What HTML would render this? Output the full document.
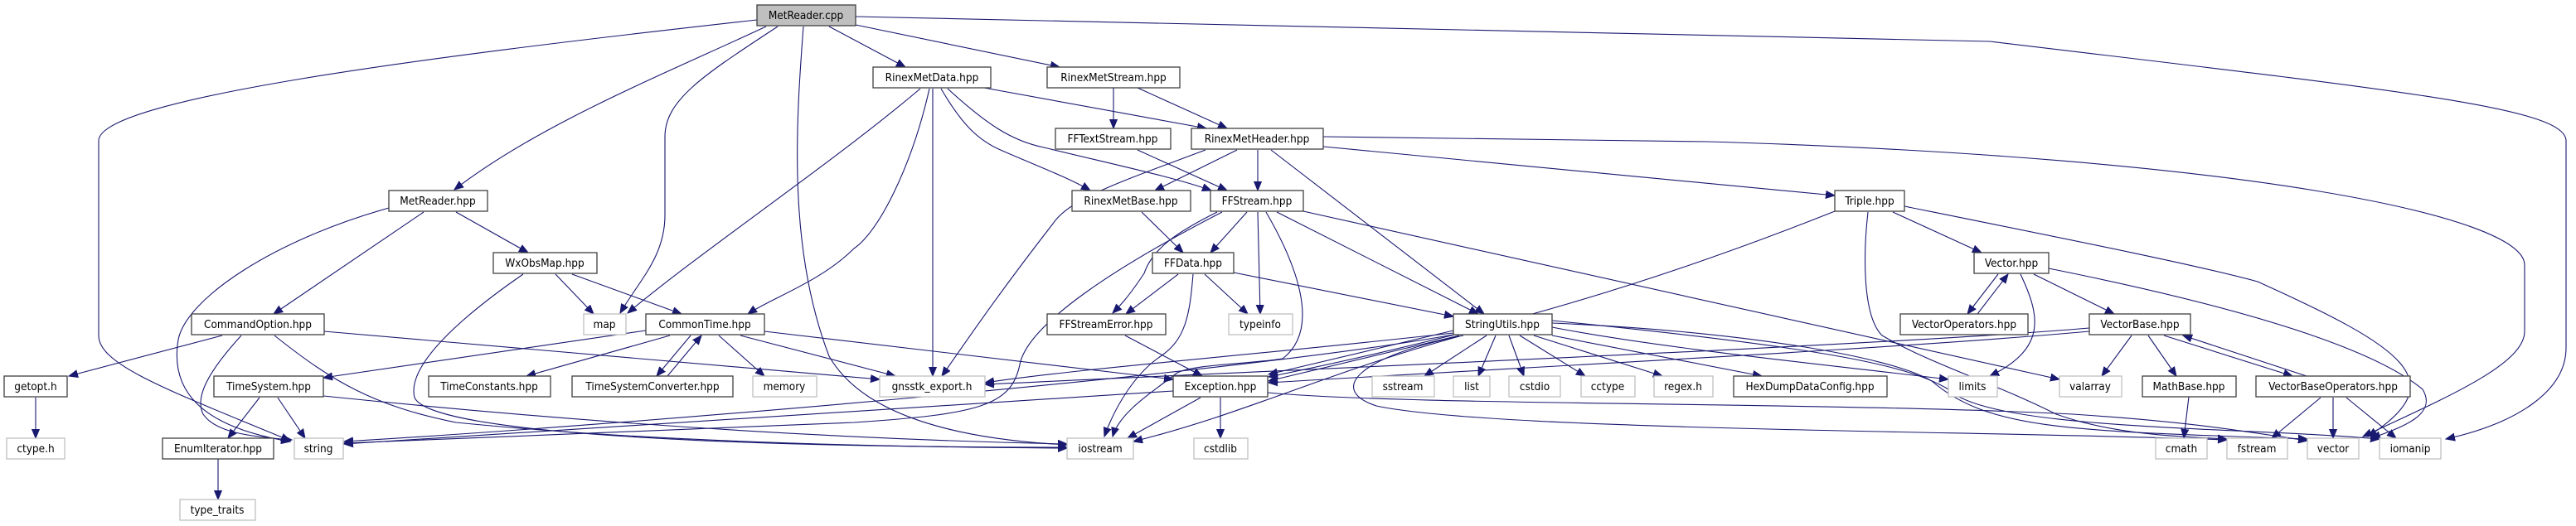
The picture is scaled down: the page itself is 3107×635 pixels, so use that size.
<!DOCTYPE html>
<html><head><meta charset="utf-8"><style>
html,body{margin:0;padding:0;background:#fff;}
svg{display:block;}
text{font-family:"DejaVu Sans Condensed","Liberation Sans",sans-serif;font-size:13.5px;fill:#000;text-anchor:middle;}
.n{fill:#fff;stroke:#404040;stroke-width:1.3;}
.g{fill:#fff;stroke:#bfbfbf;stroke-width:1.3;}
.e{fill:none;stroke:#191970;stroke-width:1.1;}
</style></head><body>
<svg width="3107" height="635" viewBox="0 0 3107 635" xmlns="http://www.w3.org/2000/svg">
<defs><marker id="a" markerUnits="userSpaceOnUse" markerWidth="12" markerHeight="10" refX="11" refY="5" orient="auto"><path d="M0,0.5 L11,5 L0,9.5 Z" fill="#191970" stroke="#191970"/></marker></defs>
<g class="e" marker-end="url(#a)">
<!-- MetReader.cpp -->
<path d="M913,24 C500,70 119,120 119,170 L119,405 C119,440 200,470 350,532"/>
<path d="M924,32 C800,90 650,150 548,229"/>
<path d="M938,32 C850,90 802,120 802,165 L802,260 C802,310 770,340 748,378"/>
<path d="M969,32 C960,150 950,300 1000,430 C1040,500 1150,530 1287,537"/>
<path d="M1000,32 L1092,81"/>
<path d="M1032,30 L1278,81"/>
<path d="M1032,20 L2400,50 C2900,110 3095,130 3095,170 L3095,420 C3095,470 3040,510 2950,530"/>
<!-- MetReader.hpp -->
<path d="M469,251 C330,290 225,360 215,410 C205,470 240,515 350,533"/>
<path d="M511,256 L330,379"/>
<path d="M550,256 L637,305"/>
<!-- WxObsMap -->
<path d="M670,331 L716,379"/>
<path d="M690,331 L822,379"/>
<path d="M631,331 C560,380 490,440 500,480 C520,525 900,540 1287,540"/>
<!-- CommandOption -->
<path d="M268,405 L83,454"/>
<path d="M291,405 C250,450 235,480 245,500 C260,522 300,527 352,531"/>
<path d="M331,405 C400,460 450,490 550,510 C800,535 1100,540 1287,541"/>
<path d="M391,400 L1061,458"/>
<!-- CommonTime -->
<path d="M779,399 L390,456"/>
<path d="M808,405 L635,454"/>
<path d="M833,405 L792,454"/>
<path d="M805,454 L846,405"/>
<path d="M867,405 L922,454"/>
<path d="M893,405 L1080,454"/>
<path d="M922,400 L1415,458"/>
<!-- TimeSystem etc -->
<path d="M313,480 L275,529"/>
<path d="M335,480 L368,529"/>
<path d="M390,478 C700,510 1000,530 1287,536"/>
<path d="M43,480 L43,529"/>
<path d="M263,554 L263,603"/>
<!-- RinexMetData -->
<path d="M1110,107 C1000,200 850,300 757,378"/>
<path d="M1121,107 C1100,200 1060,280 1030,300 C990,340 930,360 902,379"/>
<path d="M1125,107 L1125,454"/>
<path d="M1187,106 L1455,155"/>
<path d="M1135,107 C1160,150 1180,170 1209,182 C1250,200 1290,215 1315,230"/>
<path d="M1143,107 C1190,150 1220,170 1259,178 C1350,200 1420,215 1461,230"/>
<!-- RinexMetStream -->
<path d="M1343,106 L1343,155"/>
<path d="M1372,106 L1480,155"/>
<path d="M1372,181 L1480,230"/>
<!-- RinexMetHeader -->
<path d="M1454,181 C1350,220 1290,240 1270,270 C1200,360 1160,420 1136,454"/>
<path d="M1492,181 L1393,230"/>
<path d="M1517,181 L1517,230"/>
<path d="M1533,181 L1790,379"/>
<path d="M1596,165 L2060,171 C2700,190 3045,260 3045,320 L3045,400 C3045,440 2950,480 2850,527"/>
<path d="M1596,177 L2213,236"/>
<path d="M1377,256 L1427,305"/>
<!-- FFStream -->
<path d="M1504,256 L1460,305"/>
<path d="M1517,256 L1520,379"/>
<path d="M1468,256 C1420,280 1390,300 1380,330 C1360,360 1350,370 1342,378"/>
<path d="M1474,256 C1350,320 1240,390 1230,440 C1220,490 1180,500 1030,510 C700,522 500,530 415,535"/>
<path d="M1527,256 C1570,330 1590,400 1547,433 C1500,440 1440,440 1420,450 C1380,480 1350,500 1342,527"/>
<path d="M1540,256 L1783,379"/>
<path d="M1572,255 L2484,458"/>
<!-- FFData -->
<path d="M1421,331 L1358,379"/>
<path d="M1453,331 L1505,379"/>
<path d="M1439,331 C1435,380 1430,410 1400,430 C1370,450 1345,490 1332,527"/>
<path d="M1488,329 L1753,382"/>
<path d="M1357,405 L1450,454"/>
<!-- StringUtils -->
<path d="M1753,399 L1530,452"/>
<path d="M1760,405 L1530,460"/>
<path d="M1753,402 C1500,430 1300,445 1188,462"/>
<path d="M1753,404 C1500,450 800,510 415,533"/>
<path d="M1793,405 L1718,454"/>
<path d="M1804,405 L1783,454"/>
<path d="M1820,405 L1838,454"/>
<path d="M1833,405 L1912,454"/>
<path d="M1850,405 L2005,454"/>
<path d="M1872,405 L2125,454"/>
<path d="M1872,395 C2000,420 2200,440 2350,458"/>
<path d="M1872,390 C2100,400 2280,430 2330,460 C2400,520 2500,520 2783,530"/>
<path d="M1872,387 C2200,420 2300,440 2350,470 C2400,520 2700,515 2870,530"/>
<path d="M1765,405 C1640,430 1600,470 1660,490 C1800,520 2400,520 2686,531"/>
<path d="M1760,406 C1600,450 1500,500 1367,533"/>
<!-- Triple -->
<path d="M2283,256 L2390,305"/>
<path d="M2213,255 C2000,340 1800,400 1530,455"/>
<path d="M2253,256 C2248,300 2245,380 2270,405 C2330,440 2400,460 2480,500 C2550,525 2630,527 2686,530"/>
<path d="M2297,249 C2500,290 2650,320 2723,340 C2900,420 2960,460 2856,527"/>
<!-- Vector -->
<path d="M2410,331 L2373,379"/>
<path d="M2385,379 L2422,331"/>
<path d="M2437,331 C2460,380 2470,420 2400,454"/>
<path d="M2453,331 L2550,379"/>
<path d="M2471,324 C2650,360 2850,410 2922,470 C2940,500 2900,515 2860,529"/>
<!-- VectorBase -->
<path d="M2571,405 L2535,454"/>
<path d="M2591,405 L2625,454"/>
<path d="M2610,405 L2765,454"/>
<path d="M2782,454 L2633,405"/>
<path d="M2520,400 C2300,420 1900,440 1530,462"/>
<path d="M2520,396 C2300,415 1700,440 1188,464"/>
<path d="M2640,479 L2634,529"/>
<path d="M2799,480 L2740,529"/>
<path d="M2814,480 L2814,529"/>
<path d="M2830,480 L2890,529"/>
<!-- Exception -->
<path d="M1448,480 L1360,529"/>
<path d="M1472,480 L1472,529"/>
<path d="M1415,472 C1000,500 600,525 415,536"/>
<path d="M1529,474 C1700,490 2200,485 2500,500 C2650,510 2700,520 2783,532"/>
</g>
<!-- nodes -->
<g>
<rect x="913" y="6" width="119" height="25" fill="#bfbfbf" stroke="#404040" stroke-width="1.3"/><text x="972" y="23">MetReader.cpp</text>
<rect class="n" x="1053" y="81" width="142" height="25"/><text x="1124" y="98">RinexMetData.hpp</text>
<rect class="n" x="1263" y="81" width="160" height="25"/><text x="1343" y="98">RinexMetStream.hpp</text>
<rect class="n" x="1273" y="155" width="139" height="25"/><text x="1342" y="172">FFTextStream.hpp</text>
<rect class="n" x="1437" y="155" width="159" height="25"/><text x="1516" y="172">RinexMetHeader.hpp</text>
<rect class="n" x="469" y="230" width="119" height="25"/><text x="528" y="247">MetReader.hpp</text>
<rect class="n" x="1293" y="230" width="143" height="25"/><text x="1364" y="247">RinexMetBase.hpp</text>
<rect class="n" x="1460" y="230" width="112" height="25"/><text x="1516" y="247">FFStream.hpp</text>
<rect class="n" x="2213" y="230" width="84" height="25"/><text x="2255" y="247">Triple.hpp</text>
<rect class="n" x="595" y="305" width="125" height="25"/><text x="657" y="322">WxObsMap.hpp</text>
<rect class="n" x="1390" y="305" width="98" height="25"/><text x="1439" y="322">FFData.hpp</text>
<rect class="n" x="2381" y="305" width="90" height="25"/><text x="2426" y="322">Vector.hpp</text>
<rect class="n" x="231" y="379" width="160" height="25"/><text x="311" y="396">CommandOption.hpp</text>
<rect class="g" x="704" y="379" width="51" height="25"/><text x="729" y="396">map</text>
<rect class="n" x="779" y="379" width="143" height="25"/><text x="850" y="396">CommonTime.hpp</text>
<rect class="n" x="1263" y="379" width="143" height="25"/><text x="1334" y="396">FFStreamError.hpp</text>
<rect class="g" x="1482" y="379" width="77" height="25"/><text x="1520" y="396">typeinfo</text>
<rect class="n" x="1753" y="379" width="119" height="25"/><text x="1812" y="396">StringUtils.hpp</text>
<rect class="n" x="2292" y="379" width="154" height="25"/><text x="2369" y="396">VectorOperators.hpp</text>
<rect class="n" x="2520" y="379" width="122" height="25"/><text x="2581" y="396">VectorBase.hpp</text>
<rect class="n" x="5" y="454" width="76" height="25"/><text x="43" y="471">getopt.h</text>
<rect class="n" x="258" y="454" width="132" height="25"/><text x="324" y="471">TimeSystem.hpp</text>
<rect class="n" x="517" y="454" width="147" height="25"/><text x="590" y="471">TimeConstants.hpp</text>
<rect class="n" x="690" y="454" width="194" height="25"/><text x="787" y="471">TimeSystemConverter.hpp</text>
<rect class="g" x="908" y="454" width="77" height="25"/><text x="946" y="471">memory</text>
<rect class="g" x="1061" y="454" width="127" height="25"/><text x="1124" y="471">gnsstk_export.h</text>
<rect class="n" x="1415" y="454" width="114" height="25"/><text x="1472" y="471">Exception.hpp</text>
<rect class="g" x="1655" y="454" width="75" height="25"/><text x="1692" y="471">sstream</text>
<rect class="g" x="1753" y="454" width="44" height="25"/><text x="1775" y="471">list</text>
<rect class="g" x="1820" y="454" width="62" height="25"/><text x="1851" y="471">cstdio</text>
<rect class="g" x="1907" y="454" width="65" height="25"/><text x="1939" y="471">cctype</text>
<rect class="g" x="1995" y="454" width="71" height="25"/><text x="2030" y="471">regex.h</text>
<rect class="n" x="2091" y="454" width="185" height="25"/><text x="2183" y="471">HexDumpDataConfig.hpp</text>
<rect class="g" x="2350" y="454" width="59" height="25"/><text x="2379" y="471">limits</text>
<rect class="g" x="2484" y="454" width="75" height="25"/><text x="2521" y="471">valarray</text>
<rect class="n" x="2584" y="454" width="113" height="25"/><text x="2640" y="471">MathBase.hpp</text>
<rect class="n" x="2721" y="454" width="186" height="25"/><text x="2814" y="471">VectorBaseOperators.hpp</text>
<rect class="g" x="8" y="529" width="70" height="25"/><text x="43" y="546">ctype.h</text>
<rect class="n" x="196" y="529" width="134" height="25"/><text x="263" y="546">EnumIterator.hpp</text>
<rect class="g" x="355" y="529" width="59" height="25"/><text x="384" y="546">string</text>
<rect class="g" x="1287" y="529" width="80" height="25"/><text x="1327" y="546">iostream</text>
<rect class="g" x="1440" y="529" width="65" height="25"/><text x="1472" y="546">cstdlib</text>
<rect class="g" x="2600" y="529" width="62" height="25"/><text x="2631" y="546">cmath</text>
<rect class="g" x="2686" y="529" width="73" height="25"/><text x="2722" y="546">fstream</text>
<rect class="g" x="2783" y="529" width="62" height="25"/><text x="2814" y="546">vector</text>
<rect class="g" x="2870" y="529" width="74" height="25"/><text x="2907" y="546">iomanip</text>
<rect class="g" x="217" y="603" width="91" height="25"/><text x="262" y="620">type_traits</text>
</g>
</svg>
</body></html>
